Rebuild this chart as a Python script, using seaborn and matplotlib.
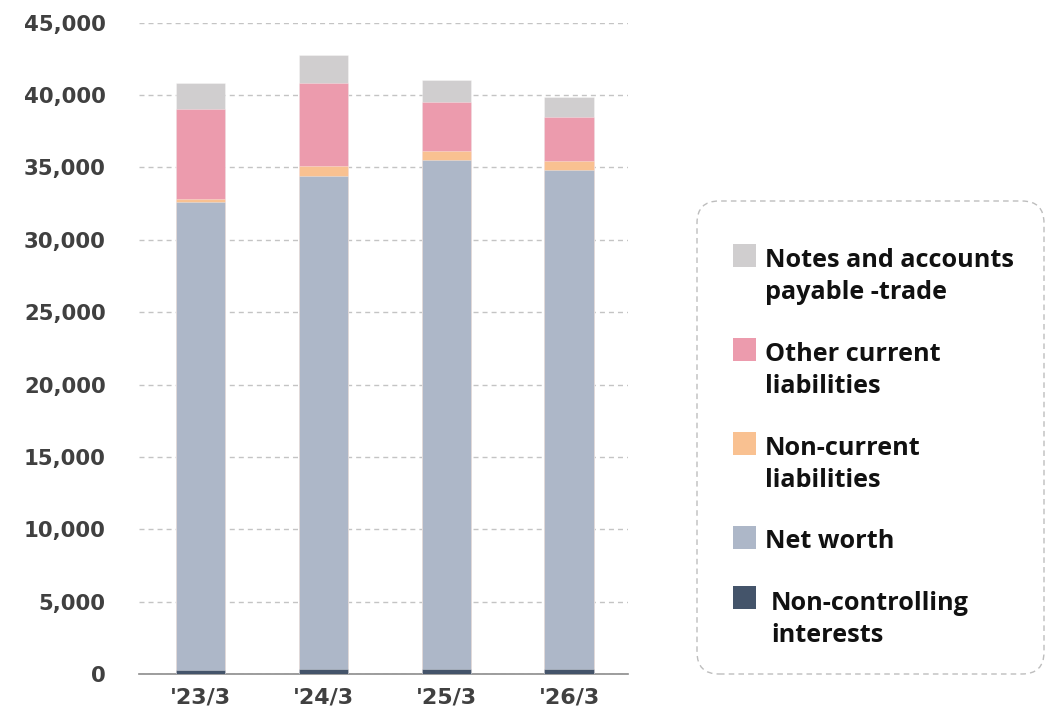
import matplotlib
matplotlib.use("Agg")
import matplotlib.pyplot as plt
from matplotlib.patches import FancyBboxPatch, Rectangle
from matplotlib.ticker import FuncFormatter
import numpy as np
import pandas as pd
import seaborn as sns

# Fiscal periods and balance-sheet components (millions of yen)
periods = ["'23/3", "'24/3", "'25/3", "'26/3"]
non_controlling = [300, 320, 350, 350]
net_worth = [32280, 34080, 35130, 34440]
non_current_liab = [250, 690, 670, 620]
other_current_liab = [6220, 5710, 3390, 3090]
payable_trade = [1780, 2000, 1520, 1340]

series_labels = [
    "Notes and accounts\npayable -trade",
    "Other current\nliabilities",
    "Non-current\nliabilities",
    "Net worth",
    "Non-controlling\ninterests",
]
colors = ["#D0CECF", "#EC9BAD", "#F9C191", "#ADB7C8", "#44546A"]
y_ticks = [0, 5000, 10000, 15000, 20000, 25000, 30000, 35000, 40000, 45000]

sns.set_theme(style="white")

# bottom-to-top stacking order
stack = [non_controlling, net_worth, non_current_liab, other_current_liab, payable_trade]
stack_colors = colors[::-1]
cum = np.cumsum(np.array(stack), axis=0)

fig = plt.figure(figsize=(10.45, 7.19), dpi=100)
W, H = 1045, 719
ax = fig.add_axes([139 / W, 1 - 674 / H, (628 - 139) / W, (674 - 22.7) / H])

# draw cumulative totals from the top layer down so each layer shows its own slice
for level in range(len(stack) - 1, -1, -1):
    df = pd.DataFrame({"period": periods, "total": cum[level]})
    sns.barplot(data=df, x="period", y="total", color=stack_colors[level],
                saturation=1, width=0.4, edgecolor=(1, 1, 1, 0.45), linewidth=0.5,
                ax=ax, zorder=3)

ax.set_xlim(-0.5, 3.48)
ax.set_ylim(0, 45000)
ax.set_yticks(y_ticks)
ax.yaxis.set_major_formatter(FuncFormatter(lambda v, p: f"{int(v):,}"))
ax.set_xlabel("")
ax.set_ylabel("")

ax.grid(axis="y", color="#C4C4C4", linestyle=(0, (3.6, 2.9)), linewidth=1.0, zorder=0)
ax.grid(axis="x", visible=False)
ax.set_axisbelow(True)
for side in ["top", "right", "left"]:
    ax.spines[side].set_visible(False)
ax.spines["bottom"].set_color("#8C8C8C")
ax.spines["bottom"].set_linewidth(1.2)

ax.tick_params(axis="y", length=0, pad=24, labelsize=15.3, labelcolor="#404040")
ax.tick_params(axis="x", length=0, pad=10, labelsize=16, labelcolor="#404040")
for lab in ax.get_yticklabels() + ax.get_xticklabels():
    lab.set_fontweight("bold")
    lab.set_family("DejaVu Sans")

# legend panel drawn in a pixel-based overlay (y measured from the top edge)
lg = fig.add_axes([0, 0, 1, 1], facecolor="none")
lg.set_xlim(0, W)
lg.set_ylim(0, H)
lg.axis("off")


def py(y):
    return H - y


box = FancyBboxPatch((697, py(674)), 347, 473,
                     boxstyle="round,pad=0,rounding_size=22",
                     facecolor="none", edgecolor="#BDBDBD",
                     linewidth=1.0, linestyle=(0, (4, 3)))
lg.add_patch(box)

square_tops = [244, 338, 432, 526, 586]
first_baselines = [267, 361, 455, 548, 610]
text_x = [765, 765, 765, 765, 771]
line_gap = 32
for label, col, sq, bl, tx in zip(series_labels, colors, square_tops, first_baselines, text_x):
    lg.add_patch(Rectangle((733, py(sq + 22.5)), 22.5, 22.5, facecolor=col, edgecolor="none"))
    for i, line in enumerate(label.split("\n")):
        lg.text(tx, py(bl + i * line_gap), line, fontsize=18.2, fontweight="bold",
                family="Open Sans", color="#111111", va="baseline", ha="left")

fig.savefig("out.png", dpi=100)
